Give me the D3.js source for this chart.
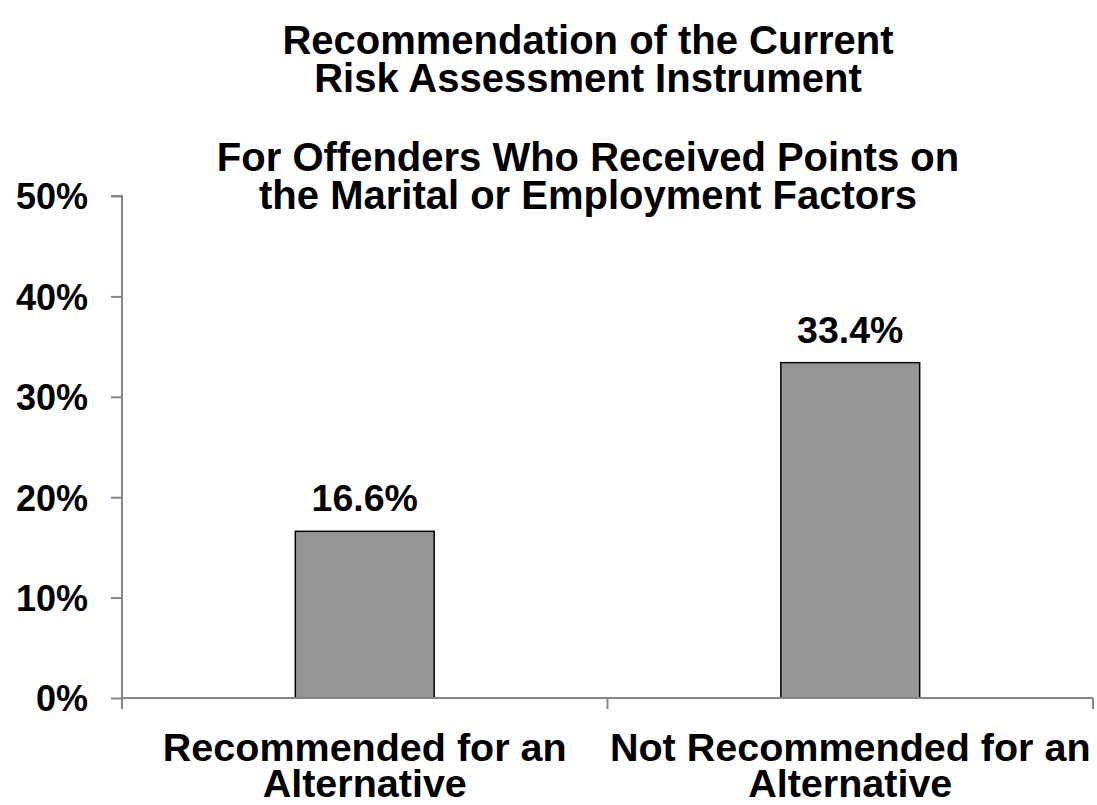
<!DOCTYPE html>
<html>
<head>
<meta charset="utf-8">
<script src="https://cdn.jsdelivr.net/npm/d3@7"></script>
<style>
  html, body { margin: 0; padding: 0; background: #fff; }
  svg { display: block; }
  text { font-family: "Liberation Sans", Arial, sans-serif; font-weight: bold; fill: #000; }
</style>
</head>
<body>
<svg id="chart" width="1097" height="805"></svg>
<script>
const categories = [["Recommended for an", "Alternative"], ["Not Recommended for an", "Alternative"]];
const values = [16.6, 33.4];
const valueLabels = ["16.6%", "33.4%"];
const yTicks = [0, 10, 20, 30, 40, 50];
const yTickLabels = ["0%", "10%", "20%", "30%", "40%", "50%"];
const titleLines = ["Recommendation of the Current", "Risk Assessment Instrument", "", "For Offenders Who Received Points on", "the Marital or Employment Factors"];

(function () {
const svg = d3.select("#chart");
const plotL = 122, plotR = 1093, plotT = 196, plotB = 698;
const fsTick = 36, fsVal = 37.5, fsCat = 39.5, fsTitle = 40;

const x = d3.scaleBand().domain(d3.range(values.length)).range([plotL, plotR])
  .paddingInner(0.714).paddingOuter(0.357);
const y = d3.scaleLinear().domain([0, 50]).range([plotB, plotT]);
const axisColor = "#868686";

// bars
svg.selectAll("rect.bar").data(values).join("rect")
  .attr("class", "bar")
  .attr("x", (d, i) => x(i))
  .attr("y", d => y(d))
  .attr("width", x.bandwidth())
  .attr("height", d => y(0) - y(d))
  .attr("fill", "#969696")
  .attr("stroke", "#000")
  .attr("stroke-width", 1.5);

// y axis
const yAxis = d3.axisLeft(y).tickValues(yTicks).tickSize(11).tickFormat((d, i) => yTickLabels[i]);
const gy = svg.append("g").attr("transform", `translate(${plotL},0)`).call(yAxis);
gy.select(".domain").attr("stroke", axisColor).attr("stroke-width", 2).attr("d", `M-11,${plotT}H0V${plotB}`);
gy.selectAll(".tick line").attr("stroke", axisColor).attr("stroke-width", 2);
gy.selectAll(".tick text").attr("x", -34).attr("dy", "0.36em")
  .style("font-size", fsTick + "px").style("font-family", "'Liberation Sans', Arial, sans-serif")
  .style("font-weight", "bold").attr("fill", "#000");

// x axis line and category boundary ticks
const bounds = d3.range(values.length + 1).map(i => plotL + i * (plotR - plotL) / values.length);
svg.append("line").attr("x1", plotL).attr("x2", plotR).attr("y1", plotB).attr("y2", plotB)
  .attr("stroke", axisColor).attr("stroke-width", 2);
svg.selectAll("line.xt").data(bounds).join("line").attr("class", "xt")
  .attr("x1", d => d).attr("x2", d => d).attr("y1", plotB).attr("y2", plotB + 11)
  .attr("stroke", axisColor).attr("stroke-width", 2);

// category labels
categories.forEach((lines, i) => {
  const cx = x(i) + x.bandwidth() / 2;
  lines.forEach((ln, j) => {
    svg.append("text").attr("x", cx).attr("y", 761 + j * 36)
      .attr("text-anchor", "middle").style("font-size", fsCat + "px").text(ln);
  });
});

// value labels
svg.selectAll("text.val").data(values).join("text").attr("class", "val")
  .attr("x", (d, i) => x(i) + x.bandwidth() / 2)
  .attr("y", d => y(d) - 20)
  .attr("text-anchor", "middle").style("font-size", fsVal + "px")
  .text((d, i) => valueLabels[i]);

// title
const titleY = [54, 92, 0, 171, 209];
titleLines.forEach((t, i) => {
  if (!t) return;
  svg.append("text").attr("x", 588).attr("y", titleY[i]).attr("text-anchor", "middle")
    .style("font-size", fsTitle + "px").text(t);
});
})();
</script>
</body>
</html>
